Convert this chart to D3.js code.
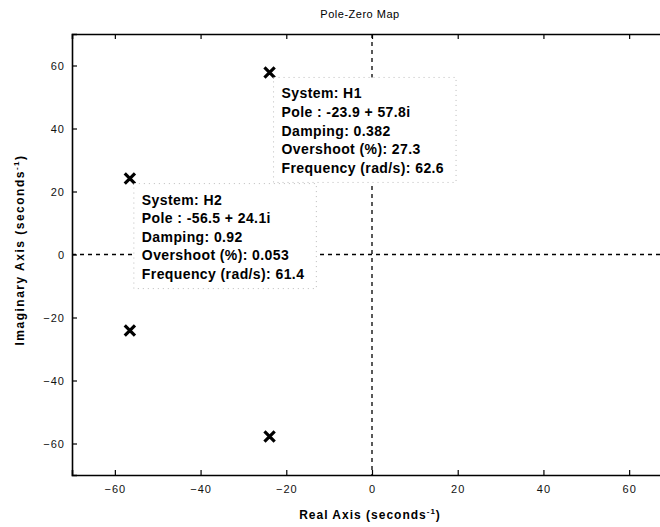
<!DOCTYPE html>
<html lang="en">
<head>
  <meta charset="UTF-8" />
  <title>Pole-Zero Map</title>
  <style>
    html, body { margin: 0; padding: 0; background: #fff; }
    svg { display: block; font-family: "Liberation Sans", Arial, sans-serif; }
  </style>
</head>
<body>
  <script src="https://d3js.org/d3.v7.min.js"></script>
  <script>
    // pole data
    const systems = ["H1", "H2"];
    const poleRe = [-23.9, -56.5];
    const poleIm = [57.8, 24.1];
    const damping = ["0.382", "0.92"];
    const overshoot = ["27.3", "0.053"];
    const frequency = ["62.6", "61.4"];
    const xTicks = [-60, -40, -20, 0, 20, 40, 60];
    const yTicks = [-60, -40, -20, 0, 20, 40, 60];

    const width = 660, height = 527;
    const plotLeft = 72, plotRight = 672, plotTop = 34, plotBottom = 475;

    const x = d3.scaleLinear().domain([-70, 70]).range([plotLeft, plotRight]);
    const y = d3.scaleLinear().domain([-70, 70]).range([plotBottom, plotTop]);

    const svg = d3.select("body").append("svg")
      .attr("width", width).attr("height", height)
      .style("overflow", "hidden");

    // zero lines
    svg.append("line")
      .attr("x1", x(0)).attr("x2", x(0)).attr("y1", plotTop).attr("y2", plotBottom)
      .attr("stroke", "#000").attr("stroke-width", 1.3).attr("stroke-dasharray", "4,4");
    svg.append("line")
      .attr("x1", plotLeft).attr("x2", plotRight).attr("y1", y(0)).attr("y2", y(0))
      .attr("stroke", "#000").attr("stroke-width", 1.3).attr("stroke-dasharray", "4,4");

    // axes, ticks inward like matlab
    const gx = svg.append("g").attr("transform", `translate(0,${plotBottom})`)
      .call(d3.axisBottom(x).tickValues(xTicks).tickSize(-5).tickPadding(10));
    const gxTop = svg.append("g").attr("transform", `translate(0,${plotTop})`)
      .call(d3.axisTop(x).tickValues(xTicks).tickSize(-5).tickFormat(""));
    const gy = svg.append("g").attr("transform", `translate(${plotLeft},0)`)
      .call(d3.axisLeft(y).tickValues(yTicks).tickSize(-5).tickPadding(7));

    [gx, gxTop, gy].forEach(g => {
      g.select(".domain").attr("stroke", "#000").attr("stroke-width", 1.6);
      g.selectAll(".tick line").attr("stroke", "#000").attr("stroke-width", 1.2);
      g.selectAll(".tick text").attr("fill", "#111").style("font-size", "11px")
        .style("letter-spacing", "1px")
        .style("font-family", "'Liberation Sans', Arial, sans-serif");
    });

    // pole markers
    const poles = [];
    systems.forEach((s, i) => {
      poles.push({ re: poleRe[i], im: poleIm[i] });
      poles.push({ re: poleRe[i], im: -poleIm[i] });
    });
    svg.append("g").selectAll("path").data(poles).join("path")
      .attr("d", d3.symbol(d3.symbolX, 70))
      .attr("transform", d => `translate(${x(d.re)},${y(d.im)})`)
      .attr("fill", "none").attr("stroke", "#000").attr("stroke-width", 3.2);

    // data tips
    systems.forEach((s, i) => {
      const lines = [
        `System: ${s}`,
        `Pole : ${poleRe[i]} + ${poleIm[i]}i`,
        `Damping: ${damping[i]}`,
        `Overshoot (%): ${overshoot[i]}`,
        `Frequency (rad/s): ${frequency[i]}`
      ];
      const bx = x(poleRe[i]) + 4, by = y(poleIm[i]) + 5;
      const g = svg.append("g");
      const rect = g.append("rect").attr("x", bx).attr("y", by)
        .attr("fill", "#fff").attr("stroke", "#bbb").attr("stroke-width", 1)
        .attr("stroke-dasharray", "1,4");
      const t = g.selectAll("text").data(lines).join("text")
        .attr("x", bx + 8)
        .attr("y", (d, k) => by + 21 + k * 18.6)
        .style("font-size", "14px").style("font-weight", "bold")
        .style("letter-spacing", "0.4px")
        .attr("fill", "#000")
        .text(d => d);
      const w = d3.max(t.nodes(), n => n.getComputedTextLength());
      rect.attr("width", w + 20).attr("height", 105);
    });

    // title and labels
    svg.append("text").attr("x", 360).attr("y", 18).attr("text-anchor", "middle")
      .style("font-size", "11px").style("letter-spacing", "0.5px").text("Pole-Zero Map");

    const xl = svg.append("text").attr("x", 370).attr("y", 519).attr("text-anchor", "middle")
      .style("font-size", "12px").style("font-weight", "bold").style("letter-spacing", "1px");
    xl.append("tspan").text("Real Axis (seconds");
    xl.append("tspan").attr("dy", -5).style("font-size", "8px").text("-1");
    xl.append("tspan").attr("dy", 5).text(")");

    const yl = svg.append("text").attr("transform", "translate(24,250) rotate(-90)")
      .attr("text-anchor", "middle")
      .style("font-size", "12px").style("font-weight", "bold").style("letter-spacing", "1.5px");
    yl.append("tspan").text("Imaginary Axis (seconds");
    yl.append("tspan").attr("dy", -5).style("font-size", "8px").text("-1");
    yl.append("tspan").attr("dy", 5).text(")");
  </script>
</body>
</html>
